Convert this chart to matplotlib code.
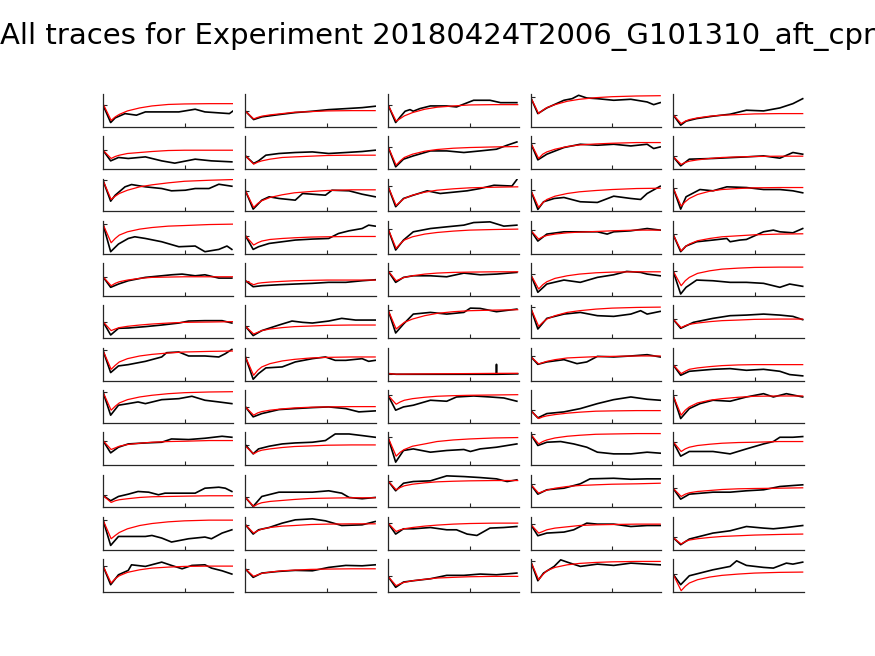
import matplotlib
matplotlib.use("Agg")
import matplotlib.pyplot as plt

# Experiment traces: 12 rows x 5 columns of recovery traces (black)
# with their fitted recovery curves (red). Units are arbitrary signal units.

title = "All traces for Experiment 20180424T2006_G101310_aft_cpr"
n_rows, n_cols = 12, 5

# time points of the fitted curves
fit_t = [0, 10, 15, 20, 30, 45, 60, 80, 100, 130, 159]

# measured traces, (time, value) pairs, row by row
traces = [
    # row 1
    [(0, 22), (9.4, 4.3), (15, 9), (27, 13.3), (41, 11.7), (52, 15), (80, 15), (93, 15), (113, 17.7), (125, 15), (155, 13.3), (159, 15.7)],
    [(0, 15.7), (10, 7.3), (20, 10), (41, 12.3), (61, 14.3), (82, 15.7), (102, 17.3), (123, 18.3), (143, 19.3), (159, 20.7)],
    [(0, 22.3), (9.4, 4.3), (15, 10), (21, 15.7), (27, 17.3), (31, 15.7), (39, 18.3), (52, 21), (72, 21), (84, 20), (105, 26.7), (125, 26.7), (138, 24.3), (158, 24.3)],
    [(0, 30), (9, 13.3), (20, 19), (41, 26.7), (51, 28.3), (59, 31.7), (69, 29), (82, 28.3), (102, 26.7), (123, 27.7), (143, 25), (151, 22.3), (159, 24.3)],
    [(0, 12.3), (9.4, 1.7), (16, 5.7), (29, 8.3), (49, 10.7), (70, 12.7), (90, 16.7), (111, 16), (131, 19), (147, 23.3), (159, 28.3)],
    # row 2
    [(0, 19), (9.4, 8.3), (19, 11.7), (31, 10.7), (52, 12.3), (72, 8.3), (88, 6), (113, 10), (133, 8.3), (158, 7.3)],
    [(0, 13.3), (10, 5.7), (16, 8.3), (25, 14), (41, 15.7), (61, 16.7), (82, 17.3), (102, 15.7), (123, 16.7), (143, 17.7), (159, 19)],
    [(0, 22.7), (9.4, 2.3), (19, 10), (31, 13.3), (52, 18.3), (72, 18.3), (93, 16.7), (113, 18.3), (133, 20), (146, 24), (158, 27.3)],
    [(0, 26.7), (9, 9.3), (20, 15), (41, 21.7), (61, 25), (82, 24), (102, 25), (123, 23.3), (143, 25), (151, 20.7), (159, 22.3)],
    [(0, 12.7), (9.4, 3.3), (20, 10), (49, 10.7), (90, 12.3), (111, 13.3), (131, 11), (147, 16.7), (159, 15)],
    # row 3
    [(0, 31.3), (9.4, 10.3), (15, 16.3), (27, 24.7), (35, 27), (52, 24.7), (72, 23), (84, 20.7), (101, 21.3), (113, 23), (130, 23), (142, 27.3), (158, 25.3)],
    [(0, 20.7), (9.4, 2.3), (20, 11.3), (29, 14.7), (41, 13), (61, 11.3), (70, 18), (82, 17.3), (98, 16.3), (106, 21.3), (127, 20.7), (143, 17.3), (159, 14.7)],
    [(0, 25.3), (9.4, 4.7), (19, 13), (31, 16.3), (48, 20.7), (64, 18), (80, 19.3), (97, 20.7), (113, 23), (130, 26.3), (152, 25.5), (158, 32)],
    [(0, 22), (9, 2), (16, 9.7), (29, 13), (41, 14), (61, 9.7), (82, 9), (102, 15.3), (123, 13), (135, 12), (143, 18), (159, 25.3)],
    [(0, 24), (9.4, 2.3), (16, 14.7), (33, 22), (49, 20.7), (66, 24.7), (90, 24), (111, 22), (131, 22), (147, 20.7), (159, 18.7)],
    # row 4
    [(0, 29.7), (9.4, 2), (19, 9.7), (31, 15.3), (39, 17), (52, 15.3), (72, 12), (93, 7), (113, 7.7), (125, 2), (142, 4.3), (152, 7.7), (158, 4.3)],
    [(0, 18), (9.4, 4.3), (16, 7), (29, 10.3), (45, 12), (61, 13.7), (82, 14.7), (102, 15.3), (114, 20.3), (127, 23), (143, 25.3), (151, 28.7), (159, 27.7)],
    [(0, 25.3), (9.4, 3.7), (19, 13.7), (31, 22), (52, 25.3), (72, 27), (93, 28.7), (105, 31.3), (125, 32), (142, 27.7), (158, 28.7)],
    [(0, 23.7), (9, 12.7), (20, 19.7), (41, 22), (61, 22), (82, 22), (94, 19.7), (102, 22), (123, 23), (143, 25.3), (159, 23.7)],
    [(0, 19.7), (9.4, 2), (16, 7.7), (29, 12), (49, 13.7), (66, 15.3), (70, 12), (82, 13.7), (90, 14.3), (111, 22), (123, 23.7), (131, 22), (147, 21), (159, 25.3)],
    # row 5
    [(0, 19.3), (9.4, 8.7), (19, 12), (31, 15.3), (52, 18.7), (72, 20.3), (84, 21.3), (97, 22), (113, 20.3), (125, 21.3), (142, 18), (158, 18)],
    [(0, 15.3), (9.4, 9.3), (20, 10.3), (41, 11.3), (61, 12), (82, 12.7), (102, 13.7), (123, 13.7), (143, 15.3), (159, 16.3)],
    [(0, 25.3), (9.4, 13.7), (19, 18.7), (31, 20.3), (52, 20.3), (72, 19.3), (93, 23), (113, 21.3), (133, 22), (158, 23.7)],
    [(0, 22), (9, 3.7), (20, 12), (41, 16), (61, 13.7), (82, 18.7), (102, 21.3), (118, 24.7), (135, 23.7), (143, 22), (159, 20.3)],
    [(0, 25.3), (9.4, 2), (16, 8.7), (29, 16), (49, 15.3), (70, 13.7), (90, 13.7), (111, 12.7), (131, 8.7), (143, 12), (159, 9.7)],
    # row 6
    [(0, 16.7), (9.4, 3.3), (19, 10), (31, 10.3), (52, 11.7), (72, 13.3), (93, 15.3), (105, 17.3), (125, 17.7), (146, 17.7), (158, 15.3)],
    [(0, 12), (9.4, 2.7), (20, 7.7), (41, 13.3), (57, 17.3), (70, 16), (82, 15.3), (102, 17.3), (118, 20), (135, 18.3), (159, 18.3)],
    [(0, 28.7), (9.4, 5.3), (19, 14.3), (31, 24.3), (52, 26), (72, 24.3), (93, 26), (101, 30.3), (113, 30), (133, 26.7), (158, 29.3)],
    [(0, 31), (9, 9.3), (20, 20), (41, 24.3), (61, 26), (82, 22.7), (102, 22), (123, 24.3), (135, 27.7), (143, 24.3), (159, 27)],
    [(0, 19.3), (9.4, 10), (25, 16), (49, 20), (70, 22.7), (90, 23.3), (111, 24.3), (131, 23.3), (147, 22), (159, 18.7)],
    # row 7
    [(0, 30.3), (9.4, 8), (19, 14.7), (31, 16), (52, 19.3), (72, 23.7), (78, 28), (93, 28.7), (105, 24.7), (125, 24.7), (142, 23.7), (150, 27), (158, 31.3)],
    [(0, 23.7), (9.4, 1.3), (16, 7), (25, 12.7), (45, 13.7), (61, 18.7), (82, 22), (98, 23.7), (110, 20.3), (123, 20.3), (143, 22), (151, 19.3), (159, 20.3)],
    [(0, 7), (10, 6.3), (132.8, 6.3), (133, 16.3), (133.2, 6.3), (159, 6.7)],
    [(0, 24.3), (9, 16.3), (20, 18.7), (41, 21), (57, 17), (69, 18.7), (82, 24.3), (102, 23.7), (123, 24.7), (143, 26), (159, 23.7)],
    [(0, 16), (9.4, 5.3), (20, 9.3), (49, 11.3), (70, 12), (90, 10.3), (111, 11.3), (131, 9.3), (143, 6), (159, 4.7)],
    # row 8
    [(0, 31), (9.4, 7.7), (19, 17.7), (31, 19.3), (43, 21), (52, 19.3), (72, 23.3), (93, 24.3), (109, 26.7), (125, 22.7), (142, 21), (158, 19.3)],
    [(0, 16), (9.4, 6), (20, 9.3), (41, 13.3), (61, 14.3), (82, 15.3), (102, 16), (123, 14.3), (139, 11), (159, 12)],
    [(0, 27.7), (9.4, 12.7), (19, 16), (31, 17.7), (52, 22.7), (72, 21.7), (84, 26), (105, 27), (125, 26), (142, 25), (158, 21.7)],
    [(0, 12.7), (9, 5), (20, 9.3), (41, 11), (61, 14.3), (82, 19.3), (102, 23.3), (123, 26), (143, 23.7), (159, 22.7)],
    [(0, 27.7), (9.4, 4.3), (20, 14.3), (33, 19.3), (49, 22.7), (70, 21.7), (90, 26), (111, 29.3), (123, 26), (139, 29.3), (159, 26)],
    # row 9
    [(0, 24.7), (9.4, 12.3), (19, 18), (31, 21.3), (52, 22.3), (72, 23), (84, 26.3), (105, 25.7), (125, 27), (146, 29), (158, 28)],
    [(0, 20.3), (9.4, 11.3), (16, 16.3), (29, 19), (45, 21.3), (61, 22.3), (82, 23), (98, 24.7), (110, 31.3), (127, 31.3), (143, 29.7), (159, 28)],
    [(0, 28), (9.4, 3), (19, 14.7), (31, 16.3), (52, 13), (72, 14.7), (93, 15.7), (101, 13.7), (113, 16.3), (133, 18), (158, 21.3)],
    [(0, 31.3), (9, 19.7), (20, 23), (37, 23.7), (53, 21.3), (69, 18), (82, 13), (102, 11.3), (123, 11.3), (143, 13), (159, 12)],
    [(0, 23.7), (9.4, 9), (20, 13.7), (49, 13.7), (70, 11.3), (90, 16.3), (111, 21.3), (123, 23.7), (131, 28), (147, 28), (159, 28.7)],
    # row 10
    [(0, 12), (9.4, 6.7), (19, 11), (31, 13.3), (43, 16), (56, 15.3), (68, 12.7), (76, 14.3), (93, 14.3), (113, 14.3), (125, 19.3), (142, 20.3), (150, 19.3), (158, 16)],
    [(0, 10), (9.4, 1), (20, 11), (41, 15.3), (61, 15.3), (82, 15.3), (102, 16.7), (118, 14.3), (127, 10), (143, 8.7), (159, 10)],
    [(0, 26.7), (9.4, 16.7), (19, 24.3), (31, 26), (52, 26.7), (72, 31.7), (93, 31), (113, 30), (133, 28.7), (146, 26), (158, 27.7)],
    [(0, 23.3), (9, 13.3), (20, 17.7), (41, 19.3), (61, 23.7), (73, 28.7), (102, 29.3), (123, 28.3), (143, 28.7), (159, 28.7)],
    [(0, 19.3), (9.4, 8.3), (20, 13.3), (49, 15.3), (70, 15.3), (90, 16.7), (111, 17.7), (131, 21), (147, 22), (159, 22.7)],
    # row 11
    [(0, 30), (9.4, 4.3), (19, 13.3), (31, 13.3), (52, 13.3), (60, 14.3), (72, 11.7), (84, 7.7), (105, 11), (125, 12.7), (133, 11), (146, 16.7), (158, 20)],
    [(0, 25), (9.4, 15.7), (16, 20), (29, 22.3), (45, 26.7), (61, 30), (82, 31), (98, 29), (118, 24.3), (143, 25), (159, 28.3)],
    [(0, 26.7), (9.4, 15.7), (19, 21), (31, 21), (52, 22.3), (72, 20), (84, 20), (97, 15.7), (109, 14.3), (125, 21.7), (142, 22.3), (158, 23.3)],
    [(0, 25.7), (9, 14), (20, 16.7), (41, 17.7), (53, 20), (69, 26.7), (82, 25.7), (102, 25.7), (123, 23.3), (143, 24.3), (159, 24.3)],
    [(0, 12.3), (9.4, 5), (20, 10.7), (49, 16.7), (70, 19), (90, 23.3), (111, 21.7), (123, 21), (139, 22.3), (159, 24.3)],
    # row 12
    [(0, 26.3), (9.4, 7.3), (19, 17.3), (31, 21.7), (35, 27.3), (52, 25.7), (72, 30), (84, 26.7), (97, 23.3), (109, 26.7), (125, 27.3), (133, 24), (146, 21.3), (158, 18)],
    [(0, 23), (9.4, 14.7), (20, 19), (41, 20.7), (61, 21.7), (82, 21.3), (102, 24.7), (123, 26.7), (143, 26.3), (159, 27.3)],
    [(0, 15.7), (9.4, 4.7), (19, 10), (31, 11.3), (52, 13.3), (72, 16.7), (93, 16.7), (113, 18), (133, 17.3), (158, 19)],
    [(0, 31.3), (9, 11.3), (16, 19), (29, 25.7), (37, 32.3), (45, 30), (61, 25.7), (82, 28), (102, 26.7), (123, 29), (143, 28), (159, 27.3)],
    [(0, 18), (9.4, 7.3), (20, 16.3), (49, 22.3), (70, 25.7), (78, 31.3), (90, 26.7), (111, 24.7), (123, 24), (139, 29), (147, 28), (159, 30)],
]

# fitted curves at fit_t, row by row
fits = [
    [23.3, 6.5, 10, 12.5, 16, 19, 21, 22.5, 23, 23.3, 23.3],
    [15.7, 8, 9.5, 10.7, 12, 13.3, 14.7, 15.3, 16, 16.3, 16.3],
    [22.3, 5.7, 8.3, 11, 14.3, 17.7, 19.7, 21, 22, 22.3, 22.3],
    [30, 13.3, 16.7, 19.3, 22.3, 25.7, 27.7, 29.3, 30.3, 31, 31.3],
    [12.3, 3.3, 5.7, 7.3, 9, 10.7, 11.7, 12.3, 13, 13.3, 13.3],
    [19, 10.7, 12.7, 14, 15.7, 16.7, 17.7, 18.7, 19, 19, 19],
    [13.3, 5, 7, 8.3, 10, 11.7, 12.3, 13, 13.7, 14, 14],
    [22.7, 4, 8.3, 11.7, 15, 18, 19.7, 21, 21.7, 22.3, 22.7],
    [26.7, 10.7, 15, 17.3, 20, 22.7, 24.3, 25.3, 26, 26.7, 26.7],
    [12.7, 4.7, 6.7, 8, 9.3, 10.7, 11.7, 12.3, 12.7, 13, 13],
    [31.3, 12, 15.3, 18, 21.3, 24.7, 26.7, 28.7, 30.3, 31.3, 32],
    [20.7, 4, 8, 10.7, 14, 16.7, 18.7, 20, 21, 21.7, 21.7],
    [25.3, 6, 9.7, 13, 16.3, 19.3, 21.3, 22.7, 23.7, 24.3, 24.7],
    [22, 4, 8.7, 12, 15.3, 18, 19.7, 21, 22, 23, 23.3],
    [24, 5.3, 9.7, 13, 17, 20.3, 22, 23, 23.7, 24, 24],
    [29.7, 11, 15.3, 18.7, 22, 24.7, 26.3, 27.7, 28.3, 29.3, 29.7],
    [18, 8.7, 11, 12.7, 14.3, 15.3, 16, 16.7, 17, 17.3, 17.3],
    [25.3, 5.3, 10, 13.7, 17, 19.7, 21.3, 22.7, 23.7, 24.3, 24.7],
    [23.7, 14.7, 17, 18.3, 19.7, 21, 21.7, 22.3, 23, 23.7, 23.7],
    [19.7, 2.7, 7, 9.7, 13, 15.3, 17, 18, 19, 19.7, 20],
    [19.3, 10.3, 12.7, 14.3, 16, 17.7, 18.7, 19, 19.3, 19.3, 19.3],
    [15.3, 11.3, 12.7, 13.3, 14, 14.7, 15.3, 15.7, 16, 16, 16],
    [25.3, 15.3, 17, 18.7, 20.3, 22, 23, 23.7, 24, 24.3, 24.3],
    [22, 7, 11.3, 14.3, 17.7, 20.3, 22, 23.3, 24, 24.3, 24.3],
    [25.3, 10.3, 15.3, 18.7, 22.7, 25.3, 27, 28, 28.7, 29, 29],
    [16.7, 7.7, 9.3, 10.7, 12, 13.3, 14.3, 15.3, 16, 16.3, 16.7],
    [12, 4.3, 6, 7.7, 9.3, 10.7, 11.7, 12.3, 13, 13.3, 13.3],
    [28.7, 9.3, 12.7, 16, 19.3, 22.7, 25, 26.7, 27.7, 28.3, 28.7],
    [31, 12, 16, 19.3, 22.7, 26, 27.7, 29.3, 30.3, 31, 31.3],
    [19.3, 10.7, 12.7, 14, 15.3, 16.7, 17.7, 18.3, 19, 19.3, 19.3],
    [30.3, 11.3, 15.3, 18.7, 22, 24.7, 26.3, 27.7, 28.7, 29.3, 29.7],
    [23.7, 5.3, 10.3, 13.7, 17, 19.7, 21.3, 22.7, 23.3, 23.7, 23.7],
    [7, 6.4, 6.5, 6.5, 6.6, 6.7, 6.8, 6.9, 7, 7.2, 7.3],
    [24.3, 16.7, 18, 19.3, 21, 22.7, 23.3, 24, 24.3, 24.7, 24.7],
    [16, 7, 9.3, 11.3, 12.7, 14, 15, 15.7, 16, 16, 16],
    [31, 12.7, 16.7, 20, 23.3, 26, 27.7, 29.3, 30.3, 31, 31.3],
    [16, 7.7, 10, 11.3, 12.7, 14, 15, 15.7, 16, 16.3, 16.3],
    [27.7, 18.7, 21, 22.7, 24.3, 25.7, 26.7, 27.3, 27.7, 28, 28.3],
    [12.7, 4.3, 6, 7, 8.3, 9.7, 10.7, 11.7, 12, 12.3, 12.3],
    [27.7, 7.7, 12.7, 16, 20, 22.7, 24.3, 25.7, 26.7, 27, 27],
    [24.7, 15.7, 17.3, 19, 20.7, 22, 23, 23.7, 24, 24.7, 24.7],
    [19, 11.3, 13.7, 15, 16.3, 17.7, 18.7, 19.3, 20, 20.3, 20.3],
    [28, 9, 13, 15.7, 19, 21.3, 23.7, 25.3, 26.3, 27.3, 27.7],
    [31.3, 21.3, 23.7, 25.3, 27.3, 29, 30, 31, 31.3, 31.7, 31.7],
    [23.7, 13.7, 16.3, 18, 19.7, 21, 22, 22.7, 23, 23.7, 23.7],
    [12, 5, 6.7, 7.7, 8.7, 10, 10.7, 11, 11.3, 11.7, 11.7],
    [10, 1, 3.3, 4.7, 6, 7, 8, 9, 9.3, 9.7, 9.7],
    [26.7, 17.7, 20, 21.7, 23.3, 24.7, 25.7, 26.3, 26.7, 27, 27],
    [23.3, 14.3, 16, 17.3, 19.3, 21, 22, 22.7, 23.3, 23.7, 24.3],
    [19.3, 11, 13.3, 14.7, 16, 17, 18, 18.7, 19, 19.3, 19.7],
    [30, 11, 14.3, 17.3, 21, 24.3, 26.3, 28, 29, 29.7, 29.7],
    [25, 16.7, 19, 20.7, 22.3, 23.7, 24.3, 25.3, 25.7, 26, 26],
    [26.7, 18.3, 20, 21, 22.3, 23.7, 24.7, 25.7, 26.3, 26.7, 26.7],
    [25.7, 16.7, 18.3, 20, 21.7, 23, 24.3, 25, 25.3, 25.7, 25.7],
    [12.3, 5.7, 8.3, 9.7, 11, 12.3, 13.3, 14, 14.7, 15.3, 15.7],
    [26.3, 9, 13.3, 16.3, 19.7, 22.3, 24, 25, 25.7, 26, 26],
    [23, 15.7, 17.3, 18.7, 20, 21.3, 22, 22.7, 23, 23.3, 23.3],
    [15.7, 6.3, 8.3, 9.7, 11.3, 12.7, 14, 14.7, 15.3, 15.7, 15.7],
    [31.3, 12.3, 17.3, 21.3, 24.7, 27.3, 28.7, 29.7, 30.3, 30.7, 30.7],
    [18, 1.3, 5.7, 9, 12.3, 15, 16.7, 18, 19, 19.7, 20],
]

fig, axes = plt.subplots(n_rows, n_cols, figsize=(8.75, 6.56), dpi=100)
fig.subplots_adjust(left=0.1177, right=0.9183, top=0.8567, bottom=0.0976,
                    wspace=0.092, hspace=0.288)

for i, ax in enumerate(axes.flat):
    t = [p[0] for p in traces[i]]
    v = [p[1] for p in traces[i]]
    ax.plot(t, v, color="black", lw=1.2)
    ax.plot(fit_t, fits[i], color="red", lw=0.9)
    ax.set_xlim(0, 160)
    ax.set_ylim(0, 33)
    ax.set_xticks([100])
    ax.set_yticks([v[0]])
    ax.set_xticklabels([])
    ax.set_yticklabels([])
    ax.tick_params(direction="in", length=3, width=0.8, color="#262626")
    ax.spines["top"].set_visible(False)
    ax.spines["right"].set_visible(False)
    for s in ("left", "bottom"):
        ax.spines[s].set_linewidth(0.9)
        ax.spines[s].set_color("#262626")

fig.suptitle(title, fontsize=21, y=0.944, va="center")

fig.savefig("out.png", dpi=100)
